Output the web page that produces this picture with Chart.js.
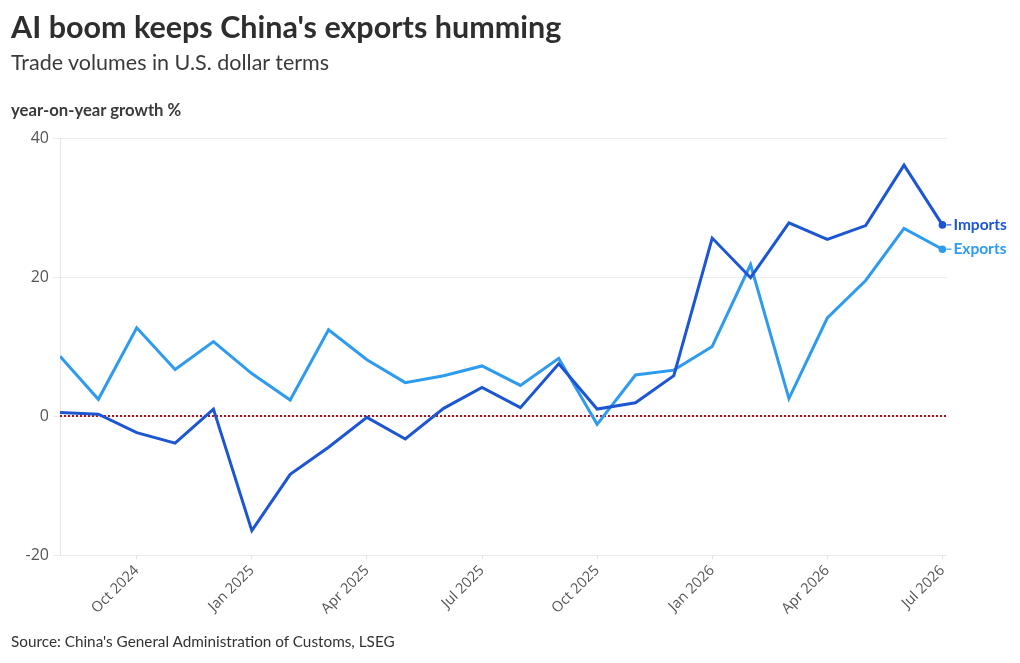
<!DOCTYPE html>
<html>
<head>
<meta charset="utf-8">
<script src="https://cdn.jsdelivr.net/npm/chart.js@4"></script>
<style>
  html, body { margin: 0; padding: 0; background: #fff; }
  #wrap { position: relative; width: 1020px; height: 663px; overflow: hidden; }
  #c { position: absolute; left: 0; top: 0; }
  .t { position: absolute; left: 11px; white-space: nowrap; color: #333; font-family: Lato, "Noto Sans", sans-serif; line-height: 1; }
  #title { top: 11px; font-size: 30.5px; font-weight: 700; color: #2e2e2e; }
  #sub { top: 52px; font-size: 21.5px; font-weight: 400; color: #3a3a3a; }
  #ylab { top: 102px; font-size: 16.7px; font-weight: 700; color: #3a3a3a; }
  #src { top: 634px; font-size: 15.3px; font-weight: 400; color: #333; }
</style>
</head>
<body>
<div id="wrap">
  <canvas id="c" width="1020" height="663"></canvas>
  <div class="t" id="title">AI boom keeps China's exports humming</div>
  <div class="t" id="sub">Trade volumes in U.S. dollar terms</div>
  <div class="t" id="ylab">year-on-year growth %</div>
  <div class="t" id="src">Source: China's General Administration of Customs, LSEG</div>
</div>
<script>
const months = ["Aug 2024","Sep 2024","Oct 2024","Nov 2024","Dec 2024","Jan 2025","Feb 2025","Mar 2025","Apr 2025","May 2025","Jun 2025","Jul 2025","Aug 2025","Sep 2025","Oct 2025","Nov 2025","Dec 2025","Jan 2026","Feb 2026","Mar 2026","Apr 2026","May 2026","Jun 2026","Jul 2026"];
const imports = [0.5, 0.25, -2.4, -3.9, 1.0, -16.5, -8.4, -4.5, -0.2, -3.3, 1.1, 4.1, 1.2, 7.5, 1.0, 1.9, 5.8, 25.6, 19.9, 27.8, 25.4, 27.4, 36.1, 27.5];
const exports = [8.6, 2.4, 12.7, 6.7, 10.7, 6.1, 2.3, 12.4, 8.1, 4.8, 5.8, 7.2, 4.4, 8.3, -1.2, 5.9, 6.6, 10.0, 21.8, 2.5, 14.1, 19.5, 27.0, 24.0];
const xTickLabels = ["Oct 2024","Jan 2025","Apr 2025","Jul 2025","Oct 2025","Jan 2026","Apr 2026","Jul 2026"];
const yTicks = [-20, 0, 20, 40];

const IMP_COLOR = "#1d56d3";
const EXP_COLOR = "#2f9bef";

const toPoints = arr => arr.map((v, i) => ({ x: i, y: v }));

const zeroLine = {
  id: "zeroLine",
  beforeDatasetsDraw(chart) {
    const { ctx, chartArea, scales } = chart;
    const y = scales.y.getPixelForValue(0);
    ctx.save();
    ctx.strokeStyle = "#a8161c";
    ctx.lineWidth = 2;
    ctx.setLineDash([2, 2]);
    ctx.beginPath();
    ctx.moveTo(chartArea.left, y);
    ctx.lineTo(chartArea.right, y);
    ctx.stroke();
    ctx.restore();
  }
};

const endLabels = {
  id: "endLabels",
  afterDatasetsDraw(chart) {
    const { ctx } = chart;
    chart.data.datasets.forEach((ds, di) => {
      const meta = chart.getDatasetMeta(di);
      const pt = meta.data[meta.data.length - 1];
      ctx.save();
      ctx.fillStyle = ds.borderColor;
      ctx.strokeStyle = ds.borderColor;
      ctx.beginPath();
      ctx.arc(pt.x, pt.y, 3.8, 0, Math.PI * 2);
      ctx.fill();
      ctx.lineWidth = 1.2;
      ctx.beginPath();
      ctx.moveTo(pt.x + 4, pt.y);
      ctx.lineTo(pt.x + 9, pt.y);
      ctx.stroke();
      ctx.font = "700 15.5px Lato, 'Noto Sans', sans-serif";
      ctx.textBaseline = "middle";
      ctx.textAlign = "left";
      ctx.fillText(ds.label, pt.x + 11, pt.y);
      ctx.restore();
    });
  }
};

new Chart(document.getElementById("c"), {
  type: "line",
  data: {
    datasets: [
      { label: "Imports", data: toPoints(imports), borderColor: IMP_COLOR, backgroundColor: IMP_COLOR, borderWidth: 3, pointRadius: 0, tension: 0 },
      { label: "Exports", data: toPoints(exports), borderColor: EXP_COLOR, backgroundColor: EXP_COLOR, borderWidth: 3, pointRadius: 0, tension: 0 }
    ]
  },
  options: {
    responsive: false,
    animation: false,
    devicePixelRatio: 1,
    layout: { padding: { left: 0, right: 73, top: 138, bottom: 0 } },
    plugins: { legend: { display: false }, tooltip: { enabled: false } },
    scales: {
      x: {
        type: "linear",
        min: 0,
        max: 23.12,
        afterBuildTicks(scale) {
          scale.ticks = xTickLabels.map(l => ({ value: months.indexOf(l) }));
        },
        afterFit(scale) { scale.height = 108; },
        ticks: {
          callback: v => months[v],
          maxRotation: 45,
          minRotation: 45,
          autoSkip: false,
          color: "#555",
          padding: 3,
          font: { family: "'Open Sans', sans-serif", size: 14.5 }
        },
        grid: { drawOnChartArea: false, drawTicks: true, tickLength: 4, color: "#e2e2e2" },
        border: { display: false }
      },
      y: {
        min: -20,
        max: 40,
        afterBuildTicks(scale) {
          scale.ticks = yTicks.map(v => ({ value: v }));
        },
        afterFit(scale) { scale.width = 60; },
        ticks: {
          color: "#555",
          padding: 4,
          font: { family: "'Open Sans', sans-serif", size: 16 }
        },
        grid: { color: "#ebebeb", lineWidth: 1, tickLength: 7, drawTicks: true },
        border: { display: true, color: "#e6e6e6" }
      }
    }
  },
  plugins: [zeroLine, endLabels]
});
</script>
</body>
</html>
